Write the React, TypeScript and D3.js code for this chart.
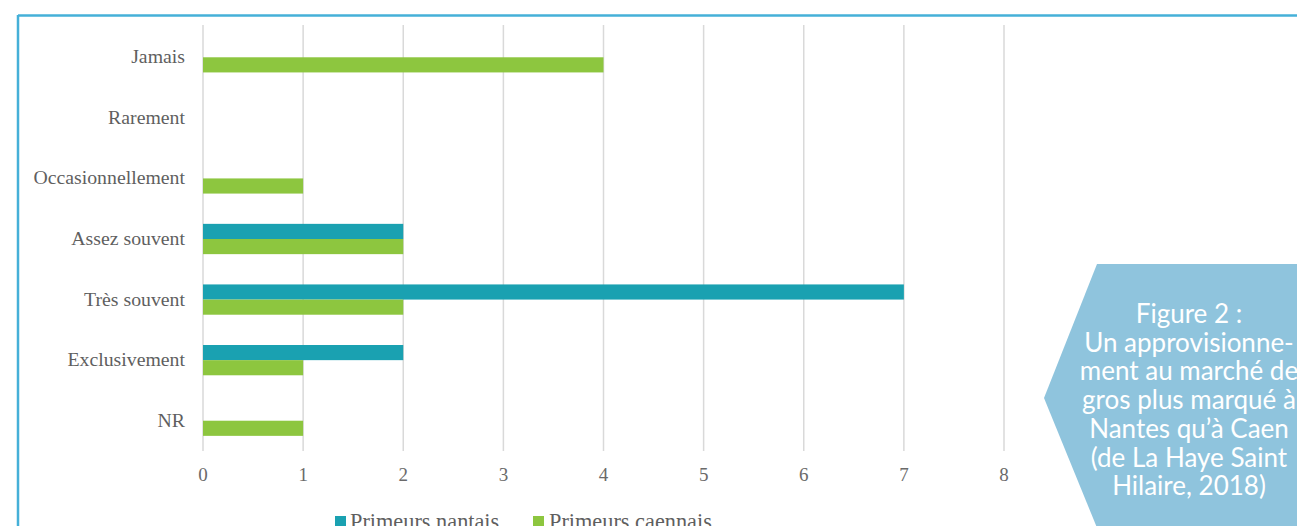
import React from "react";
import * as d3 from "d3";

const categories = ["Jamais", "Rarement", "Occasionnellement", "Assez souvent", "Très souvent", "Exclusivement", "NR"];
const seriesNames = ["Primeurs nantais", "Primeurs caennais"];
const nantais = [0, 0, 0, 2, 7, 2, 0];
const caennais = [4, 0, 1, 2, 2, 1, 1];
const xTicks = [0, 1, 2, 3, 4, 5, 6, 7, 8];
const seriesColors = ["#1aa1b1", "#8dc63f"];
const calloutLines = [
  "Figure 2 :",
  "Un approvisionne-",
  "ment au marché de",
  "gros plus marqué à",
  "Nantes qu’à Caen",
  "(de La Haye Saint",
  "Hilaire, 2018)",
];

const W = 1297;
const H = 526;

export default function App() {
  const x = d3.scaleLinear().domain([0, 8]).range([203, 1004]);
  const y = d3.scaleBand<string>().domain(categories).range([27, 451]).paddingInner(0.5).paddingOuter(0.25);
  const sub = d3.scaleBand<string>().domain(seriesNames).range([0, y.bandwidth()]);
  const seriesData = [nantais, caennais];

  const hex: [number, number][] = [
    [1097, 264],
    [1300, 264],
    [1300, 540],
    [1102, 540],
    [1044, 398],
  ];
  const hexPath = d3.line()(hex) + "Z";

  const legendItems = [
    { name: seriesNames[0], sx: 335, tx: 350, color: seriesColors[0] },
    { name: seriesNames[1], sx: 533, tx: 549, color: seriesColors[1] },
  ];

  return (
    <svg width={W} height={H} style={{ position: "absolute", left: 0, top: 0, background: "#fff" }}>
      {/* frame */}
      <line x1={18} y1={15.5} x2={W} y2={15.5} stroke="#45b0d8" strokeWidth={2.5} />
      <line x1={18} y1={15} x2={18} y2={H} stroke="#45b0d8" strokeWidth={2.5} />

      {/* gridlines */}
      {xTicks.map((t) => (
        <line key={t} x1={x(t)} x2={x(t)} y1={25} y2={451} stroke="#d9d9d9" strokeWidth={1.5} />
      ))}

      {/* bars */}
      {seriesData.map((vals, si) =>
        categories.map((c, ci) =>
          vals[ci] > 0 ? (
            <rect
              key={`${si}-${ci}`}
              x={x(0)}
              y={(y(c) as number) + (sub(seriesNames[si]) as number)}
              width={x(vals[ci]) - x(0)}
              height={sub.bandwidth()}
              fill={seriesColors[si]}
            />
          ) : null
        )
      )}

      {/* category labels */}
      {categories.map((c) => (
        <text
          key={c}
          x={185}
          y={(y(c) as number) + y.bandwidth() / 2 + 6}
          textAnchor="end"
          fontFamily="'Liberation Serif', 'Times New Roman', serif"
          fontSize={19.8}
          fill="#5f5f5f"
        >
          {c}
        </text>
      ))}

      {/* x tick labels */}
      {xTicks.map((t) => (
        <text
          key={t}
          x={x(t)}
          y={481}
          textAnchor="middle"
          fontFamily="'Liberation Serif', 'Times New Roman', serif"
          fontSize={19}
          fill="#6a6a6a"
        >
          {t}
        </text>
      ))}

      {/* legend */}
      {legendItems.map((l) => (
        <g key={l.name}>
          <rect x={l.sx} y={516} width={11} height={11} fill={l.color} />
          <text
            x={l.tx}
            y={529}
            fontFamily="'Liberation Serif', 'Times New Roman', serif"
            fontSize={22.3}
            fill="#5f5f5f"
          >
            {l.name}
          </text>
        </g>
      ))}

      {/* callout */}
      <path d={hexPath} fill="#8fc4dd" />
      {calloutLines.map((line, i) => (
        <text
          key={i}
          x={1189}
          y={323 + i * 28.7}
          textAnchor="middle"
          fontFamily="Lato, 'Open Sans', sans-serif"
          fontSize={26}
          fill="#ffffff"
        >
          {line}
        </text>
      ))}
    </svg>
  );
}
